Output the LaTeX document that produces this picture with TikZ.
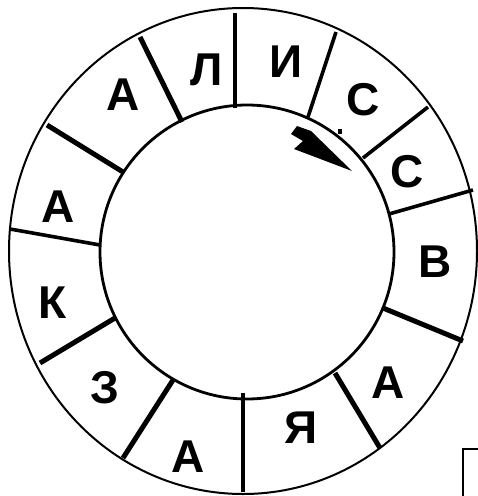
\documentclass[tikz,border=0pt]{standalone}
\usepackage{fontspec}
\setmainfont{Liberation Sans}
\begin{document}
\begin{tikzpicture}[x=1pt,y=-1pt,
  letter/.style={font=\fontsize{46}{48}\selectfont\bfseries, inner sep=0pt},
  thickdiv/.style={line width=5pt},
  thindiv/.style={line width=3.6pt}]
\useasboundingbox (0,0) rectangle (478,496);
% rings
\draw[line width=2pt] (243,251) ellipse [x radius=234, y radius=243];
\draw[line width=2.8pt] (247,252) circle [radius=147];
% dividers
\draw[thindiv] (235,13) -- (235,108);
\draw[thindiv] (336,32) -- (308,117);
\draw[thindiv] (428,107) -- (363,158);
\draw[thindiv] (473,190) -- (389,214);
\draw[thickdiv] (383,308) -- (463,341);
\draw[thickdiv] (335,373) -- (380,448);
\draw[thindiv] (243,393) -- (243,492);
\draw[thickdiv] (173,380) -- (123,458);
\draw[thickdiv] (115,318) -- (40,363);
\draw[thindiv] (100,245) -- (10,229);
\draw[thickdiv] (123,172) -- (47,125);
\draw[thickdiv] (182,122) -- (140,37);
% letters
\node[letter] (l1) at (207,70) {Л};
\node[letter] (l2) at (286,62) {И};
\node[letter] (l3) at (363,100) {С};
\node[letter] (l4) at (407,172) {С};
\node[letter] (l5) at (435,262) {В};
\node[letter] (l6) at (388,383) {А};
\node[letter] (l7) at (301,428) {Я};
\node[letter] (l8) at (188,457) {А};
\node[letter] (l9) at (105,388) {З};
\node[letter] (l10) at (53,303) {К};
\node[letter] (l11) at (58,207) {А};
\node[letter] (l12) at (123,95) {А};
% arrow
\fill (297,126) -- (311,131) -- (352,171) -- (294,149) -- (303,141) -- (291,134) -- cycle;
\fill (338,129) rectangle (342,134);
% corner box
\draw[line width=1.5pt] (463,496) -- (463,449) -- (478,449);
\end{tikzpicture}
\end{document}
